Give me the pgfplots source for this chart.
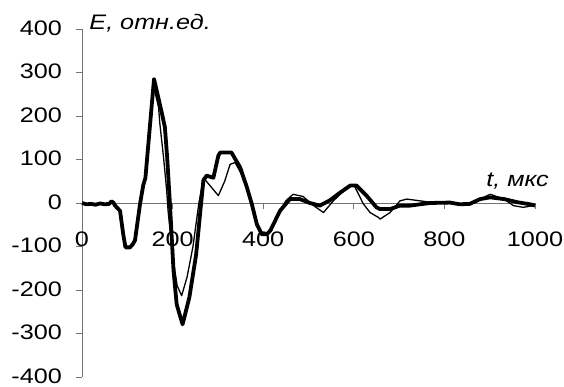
\documentclass[border=0pt]{standalone}
\usepackage{fontspec}
\setmainfont{Liberation Sans}[FakeStretch=1.2]
\usepackage{pgfplots}
\usepackage{pgfplotstable}
\pgfplotsset{compat=1.18}
\pgfplotstableread{
x y
0 0
10 -3
20 -2
30 -4
40 -1
50 -3
60 -2
65 4
70 0
73 -6
84 -18
91 -72
96 -102
106 -102
112 -95
117 -86
128 -3
135 40
140 58
159 285
165 258
176 208
183 174
188 105
194 0
202 -155
209 -233
222 -279
237 -217
252 -118
263 0
268 52
275 63
290 58
301 109
305 116
330 116
349 82
364 36
375 -3
386 -49
397 -72
408 -72
416 -63
437 -18
459 9
481 9
503 0
525 -6
547 6
570 24
592 40
606 40
628 17
650 -10
658 -14
680 -14
702 -6
724 -6
746 -3
768 0
812 1
834 -3
856 -2
879 9
901 13
932 9
960 2
989 -3
1000 -6
}\thickdata
\pgfplotstableread{
x y
0 0
10 -2
20 -3
30 -2
40 -2
50 -4
60 -1
65 3
70 1
73 -5
84 -16
91 -68
96 -100
106 -100
112 -92
117 -80
128 0
135 42
140 60
157 273
169 220
172 181
180 105
187 28
190 -18
200 -120
210 -190
220 -213
232 -170
245 -100
258 0
265 40
268 58
301 17
315 50
327 89
338 93
350 70
364 36
375 -3
386 -49
397 -72
408 -72
420 -55
437 -18
450 5
466 20
488 15
510 -5
533 -22
554 4
575 25
592 40
600 42
621 -2
636 -22
654 -33
658 -37
680 -22
702 5
717 9
746 5
780 0
830 -2
864 0
879 9
901 20
932 9
952 -6
974 -10
996 -6
}\thindata
\begin{document}
\begin{tikzpicture}[x=1pt,y=1pt]
\path[use as bounding box] (-82,-10) rectangle (482,377);
\begin{axis}[at={(0,0)}, anchor=south west, scale only axis,
  width=453pt, height=348pt,
  xmin=0, xmax=1000, ymin=-400, ymax=400,
  axis x line=middle, axis y line=left,
  axis line style={-, draw=black!55, line width=0.8pt},
  xtick={0,200,...,1000}, ytick={-400,-300,...,400},
  xticklabels={0,200,400,600,800,1000},
  yticklabels={-400,-300,-200,-100,0,100,200,300,400},
  tick style={draw=black!55, line width=0.8pt},
  major tick length=6pt,
  tick align=outside,
  hide obscured x ticks=false, hide obscured y ticks=false,
  ticklabel style={font=\fontsize{21}{21}\selectfont, inner sep=0pt},
  xticklabel style={anchor=center, yshift=-30pt},
  yticklabel style={anchor=east, xshift=-14pt, yshift=1pt},
  clip=false,
]
\addplot[black, line width=1.3pt, line join=round] table[x=x, y=y] {\thindata};
\addplot[black, line width=3.8pt, line join=round] table[x=x, y=y] {\thickdata};
\node[anchor=base west, inner sep=0pt, font=\itshape\fontsize{21}{21}\selectfont] at (axis cs:16,399) {E, отн.ед.};
\node[anchor=base west, inner sep=0pt, font=\itshape\fontsize{21}{21}\selectfont] at (axis cs:892,37) {t, мкс};
\end{axis}
\end{tikzpicture}
\end{document}
